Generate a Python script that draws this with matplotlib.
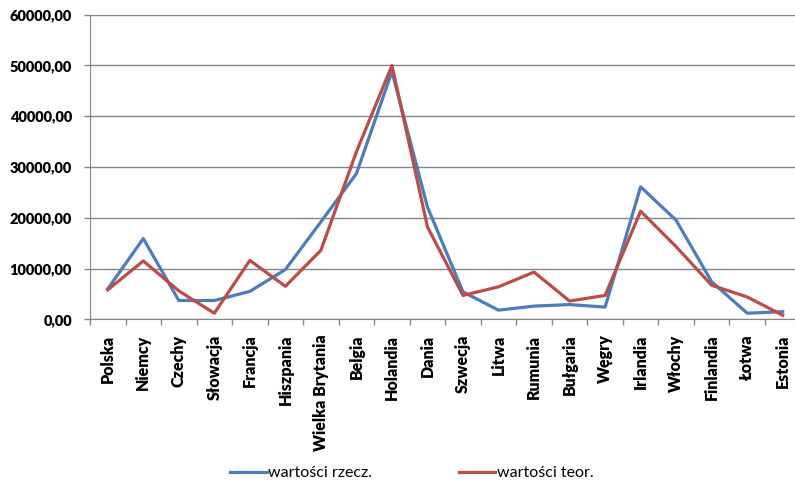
import matplotlib.pyplot as plt
from matplotlib.ticker import FixedLocator, FuncFormatter

countries = ["Polska", "Niemcy", "Czechy", "Słowacja", "Francja", "Hiszpania",
             "Wielka Brytania", "Belgia", "Holandia", "Dania", "Szwecja", "Litwa",
             "Rumunia", "Bułgaria", "Węgry", "Irlandia", "Włochy", "Finlandia",
             "Łotwa", "Estonia"]
rzecz = [6000, 15900, 3700, 3700, 5500, 9800, 19200, 28700, 48800, 22100,
         5400, 1800, 2600, 2900, 2400, 26100, 19500, 7400, 1200, 1500]
teor = [5800, 11500, 5600, 1200, 11600, 6500, 13600, 33000, 50000, 18200,
        4700, 6400, 9300, 3600, 4700, 21300, 14300, 6700, 4400, 800]

plt.rcParams['font.family'] = ['Lato', 'DejaVu Sans']

fig = plt.figure(figsize=(7.95, 4.84), dpi=100)
ax = fig.add_axes([0.1132, 0.3403, 0.8937, 0.6293])

x = range(len(countries))
ax.plot(x, rzecz, color='#4a7ebb', lw=2.3, label='wartości rzecz.')
ax.plot(x, teor, color='#be4b48', lw=2.3, label='wartości teor.')

ax.set_xlim(-0.5, len(countries) - 0.5)
ax.set_ylim(0, 60000)
ax.set_yticks(range(0, 60001, 10000))
ax.yaxis.set_major_formatter(FuncFormatter(lambda v, p: f"{v:.2f}".replace('.', ',')))
ax.grid(axis='y', color='#868686', lw=1)
ax.set_axisbelow(True)

ax.set_xticks(list(x))
ax.set_xticklabels(countries, rotation=90, fontweight='heavy', fontsize=11.5, va='top')
ax.xaxis.set_minor_locator(FixedLocator([i - 0.5 for i in range(len(countries) + 1)]))
ax.tick_params(axis='x', which='major', length=0, pad=11)
ax.tick_params(axis='x', which='minor', length=4, color='#868686', width=1)
ax.tick_params(axis='y', length=4, color='#868686', width=1, pad=9, labelsize=10.5)
for lbl in ax.get_yticklabels():
    lbl.set_fontweight('heavy')

for side in ('top', 'right'):
    ax.spines[side].set_visible(False)
for side in ('left', 'bottom'):
    ax.spines[side].set_color('#868686')

fig.legend(loc='lower center', bbox_to_anchor=(0.518, -0.022), ncol=2, frameon=False,
           handlelength=2.3, handletextpad=0.1, columnspacing=5.4, fontsize=11.5)

fig.savefig('out.png', dpi=100)
